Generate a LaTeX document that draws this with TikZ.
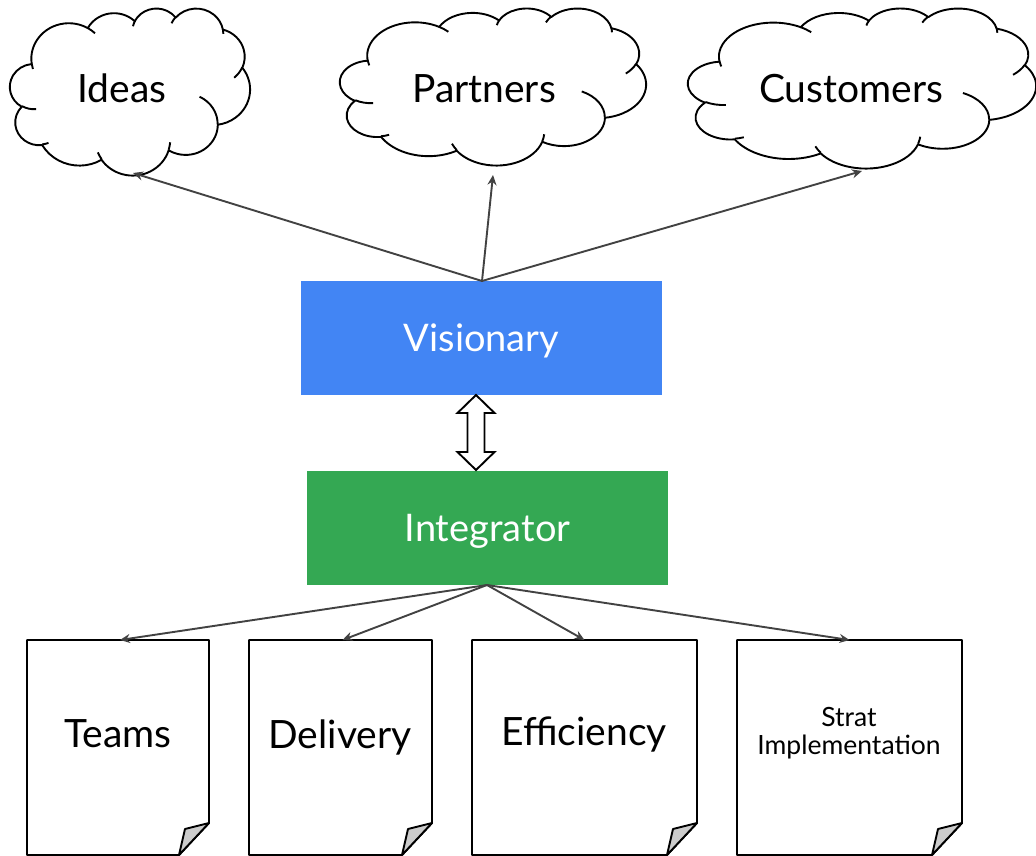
\documentclass[tikz,border=0pt]{standalone}
\usepackage{fontspec}
\setmainfont{Lato}
\usetikzlibrary{arrows.meta,calc}
\definecolor{vblue}{HTML}{4285F4}
\definecolor{igreen}{HTML}{34A853}
\definecolor{conn}{HTML}{424242}
\definecolor{foldgray}{HTML}{CCCCCC}
\tikzset{
  outline/.style={draw=black, line width=1.9pt, line join=round},
  bigtext/.style={font=\fontsize{39}{42}\selectfont, inner sep=0pt, text depth=0pt},
  rolebox/.style={rectangle, minimum width=361pt, minimum height=114pt, inner sep=0pt, text=white, text depth=0pt, font=\fontsize{38}{41}\selectfont},
  conarrow/.style={draw=conn, line width=1.9pt, -{Stealth[length=10pt,width=9pt]}},
}
% visual angle -> parametric angle
\newcommand{\visang}[3]{((#1)+mod(atan2((#2)*sin(#1),(#3)*cos(#1))-(#1)+540,360)-180)}
% radii given in thousandths of the 43200 unit box
\newcommand{\carc}[4]{arc[x radius={#1/43.2}, y radius={#2/43.2}, start angle={\visang{#3}{#1}{#2}}, end angle={\visang{(#3)+(#4)}{#1}{#2}}]}
\newcommand{\cloudat}[4]{% cx, cy, W, H
 \begin{scope}[shift={(#1-#3/2,#2-#4/2)}, x=#3pt, y=-#4pt]
  \draw[outline, fill=white] (0.09028,0.33264)
   \carc{6.753}{9.190}{-190.4875}{123.7805}
   \carc{5.333}{7.267}{-144.1024}{89.9452}
   \carc{4.365}{5.945}{-145.8079}{99.7230}
   \carc{4.857}{6.595}{-130.9861}{117.2417}
   \carc{5.333}{7.273}{-78.7089}{109.0269}
   \carc{6.775}{9.220}{-46.2673}{130.2690}
   \carc{5.785}{7.867}{0.6250}{114.0333}
   \carc{6.752}{9.215}{22.4516}{115.1726}
   \carc{7.720}{10.543}{66.2426}{75.7110}
   \carc{4.360}{5.918}{-274.9421}{146.7356}
   \carc{4.345}{5.945}{-246.8285}{152.5189}
   -- cycle;
  \draw[outline]
   (0.10863,0.60595) \carc{4.345}{5.945}{86.7420}{26.4295}
   (0.16037,0.80785) \carc{4.360}{5.918}{73.6105}{11.4475}
   (0.38144,0.90486) \carc{6.752}{9.215}{137.6242}{14.0811}
   (0.66729,0.80442) \carc{6.752}{9.215}{6.4533}{15.9984}
   (0.79002,0.53134) \carc{5.785}{7.867}{-70.2924}{70.9174}
   (0.96755,0.35542) \carc{5.333}{7.273}{30.3180}{27.7515}
   (0.88713,0.12560) \carc{4.857}{6.595}{-13.7443}{14.8589}
   (0.67310,0.09148) \carc{4.857}{6.595}{-149.1815}{18.1954}
   (0.51252,0.10926) \carc{4.365}{5.945}{-163.4943}{17.6864}
   (0.32407,0.12019) \carc{6.753}{9.190}{-66.7070}{12.3194}
   (0.09553,0.36549) \carc{6.753}{9.190}{157.6544}{11.8582};
 \end{scope}
}
\newcommand{\docpage}[5]{% name, x1, x2, y1, y2
  \draw[outline, fill=white] (#2,#4) -- (#3,#4) -- (#3,#5-32) -- (#3-30,#5) -- (#2,#5) -- cycle;
  \draw[outline, fill=foldgray] (#3,#5-32) -- (#3-24,#5-26) -- (#3-30,#5) -- cycle;
  \coordinate (#1) at ({(#2+#3)/2},#4);
}
\begin{document}
\begin{tikzpicture}[x=1pt,y=-1pt]
\useasboundingbox (0,0) rectangle (1036,856);
% clouds
\cloudat{130}{91.5}{240}{167}
\cloudat{493}{86.5}{306}{157}
\cloudat{862}{88}{348}{160}
\node[bigtext] (ideas) at (122,88.5) {Ideas};
\node[bigtext] (partners) at (484,88.5) {Partners};
\node[bigtext] (customers) at (851,88.5) {Customers};
\coordinate (ideasB) at (133,173);
\coordinate (partnersB) at (493,175);
\coordinate (customersB) at (862,171);
% role boxes
\node[rolebox, fill=vblue] (vis) at (481.5,338) {Visionary};
\node[rolebox, fill=igreen] (int) at (487.5,528) {Integrator};
% documents
\docpage{teams}{27}{209}{640}{855}
\docpage{delivery}{249}{432}{640}{855}
\docpage{efficiency}{472}{697}{640}{855}
\docpage{strat}{737}{962}{640}{855}
\node[bigtext] (teamsT) at (118,734) {Teams};
\node[bigtext] (deliveryT) at (340,734) {Delivery};
\node[bigtext] (efficiencyT) at (584,731) {Efficiency};
\node[font=\fontsize{26.5}{28}\selectfont, align=center] (stratT) at (849,733) {Strat\\Implementation};
% connectors from visionary
\coordinate (vtop) at (482,281);
\draw[conarrow] (vtop) -- (ideasB);
\draw[conarrow] (vtop) -- (partnersB);
\draw[conarrow] (vtop) -- (customersB);
% connectors from integrator
\coordinate (ibot) at (487,585);
\draw[conarrow] (ibot) -- ($(teams)+(2,0)$);
\draw[conarrow] (ibot) -- ($(delivery)+(2,0)$);
\draw[conarrow] (ibot) -- (efficiency);
\draw[conarrow] (ibot) -- (strat);
% double arrow between visionary and integrator
\coordinate (dtop) at (476,395);
\draw[outline, fill=white, line join=miter] (dtop) -- ++(18.5,18) -- ++(-10,0) -- ++(0,39) -- ++(10,0) -- (476,470) -- ++(-18.5,-18) -- ++(10,0) -- ++(0,-39) -- ++(-10,0) -- cycle;
\end{tikzpicture}
\end{document}
